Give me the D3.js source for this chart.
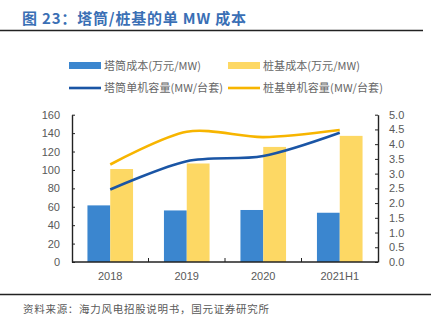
<!DOCTYPE html>
<html>
<head>
<meta charset="utf-8">
<script src="https://cdn.jsdelivr.net/npm/d3@7"></script>
<style>
  body { margin: 0; background: #fff; }
  svg { display: block; font-family: "Liberation Sans", Arial, sans-serif; }
</style>
</head>
<body>
<svg id="chart" width="433" height="331"></svg>
<script>
const years = ["2018", "2019", "2020", "2021H1"];
const towerCost = [61.5, 56, 56.5, 53.5];     // 万元/MW
const pileCost = [101, 107, 125, 137];        // 万元/MW
const towerCap = [2.46, 3.42, 3.6, 4.39];     // MW/台套
const pileCap = [3.31, 4.42, 4.24, 4.48];     // MW/台套
const leftTicks = [0, 20, 40, 60, 80, 100, 120, 140, 160];
const rightTicks = [0, 0.5, 1, 1.5, 2, 2.5, 3, 3.5, 4, 4.5, 5];

const blue = "#3b86cf", gold = "#fdd864";
const blueLine = "#1a55a5", goldLine = "#f7b500";
const grey = "#595959";
const cjk = "'Noto Sans CJK SC', 'Liberation Sans', sans-serif";

const svg = d3.select("#chart");

// title + rules
svg.append("text")
  .attr("x", 22).attr("y", 23.5)
  .attr("fill", "#3a6fb5")
  .attr("font-size", 15).attr("font-weight", "bold")
  .attr("font-family", cjk)
  .attr("textLength", 224).attr("lengthAdjust", "spacing")
  .text("图 23：塔筒/桩基的单 MW 成本");
svg.append("line").attr("x1", 0).attr("x2", 423).attr("y1", 30.5).attr("y2", 30.5)
  .attr("stroke", "#222").attr("stroke-width", 1.6);
svg.append("line").attr("x1", 0).attr("x2", 431).attr("y1", 294.5).attr("y2", 294.5)
  .attr("stroke", "#222").attr("stroke-width", 1.4);
svg.append("text")
  .attr("x", 23).attr("y", 313)
  .attr("fill", grey).attr("font-size", 10.5)
  .attr("font-family", cjk)
  .attr("textLength", 246).attr("lengthAdjust", "spacing")
  .text("资料来源：海力风电招股说明书，国元证券研究所");

const plotL = 72, plotR = 378, plotT = 114.7, plotB = 262;

const x = d3.scaleBand().domain(years).range([plotL, plotR]);
const y = d3.scaleLinear().domain([0, 160]).range([plotB, plotT]);
const y2 = d3.scaleLinear().domain([0, 5]).range([plotB, plotT]);

const barW = 22.8;

// bars
const g = svg.append("g");
g.selectAll(".tower").data(years).join("rect")
  .attr("x", (d) => x(d) + x.bandwidth() / 2 - barW)
  .attr("y", (d, i) => y(towerCost[i]))
  .attr("width", barW)
  .attr("height", (d, i) => plotB - y(towerCost[i]))
  .attr("fill", blue);
g.selectAll(".pile").data(years).join("rect")
  .attr("x", (d) => x(d) + x.bandwidth() / 2)
  .attr("y", (d, i) => y(pileCost[i]))
  .attr("width", barW)
  .attr("height", (d, i) => plotB - y(pileCost[i]))
  .attr("fill", gold);

// smooth capacity lines on the right scale
const line = d3.line()
  .curve(d3.curveCardinal.tension(0.1))
  .x((d, i) => x(years[i]) + x.bandwidth() / 2)
  .y((d) => y2(d));
svg.append("path").attr("d", line(pileCap))
  .attr("fill", "none").attr("stroke", goldLine).attr("stroke-width", 2.6);
svg.append("path").attr("d", line(towerCap))
  .attr("fill", "none").attr("stroke", blueLine).attr("stroke-width", 2.6);

// axes
const fmt1 = d3.format(".1f");
const axL = svg.append("g").attr("transform", `translate(${plotL},0)`)
  .call(d3.axisRight(y).tickValues(leftTicks).tickSize(3).tickSizeOuter(0).tickFormat(() => ""));
const axR = svg.append("g").attr("transform", `translate(${plotR},0)`)
  .call(d3.axisLeft(y2).tickValues(rightTicks).tickSize(3).tickSizeOuter(0).tickFormat(() => ""));
[axL, axR].forEach((a) => {
  a.select(".domain").attr("stroke", "#222").attr("stroke-width", 1.4);
  a.selectAll(".tick line").attr("stroke", "#222").attr("stroke-width", 1);
});

svg.append("g").selectAll("text").data(leftTicks).join("text")
  .attr("x", plotL - 12).attr("y", (d) => y(d) + 4)
  .attr("text-anchor", "end").attr("font-size", 11).attr("fill", grey)
  .text((d) => d);
svg.append("g").selectAll("text").data(rightTicks).join("text")
  .attr("x", plotR + 11).attr("y", (d) => y2(d) + 4)
  .attr("font-size", 11).attr("fill", grey)
  .text((d) => fmt1(d));

// x axis baseline with ticks between categories
svg.append("line").attr("x1", plotL).attr("x2", plotR).attr("y1", plotB).attr("y2", plotB)
  .attr("stroke", "#222").attr("stroke-width", 1.4);
svg.append("g").selectAll("line").data(years.slice(1)).join("line")
  .attr("x1", (d) => x(d)).attr("x2", (d) => x(d))
  .attr("y1", plotB).attr("y2", plotB - 4)
  .attr("stroke", "#222").attr("stroke-width", 1);
svg.append("g").selectAll("text").data(years).join("text")
  .attr("x", (d) => x(d) + x.bandwidth() / 2).attr("y", plotB + 18)
  .attr("text-anchor", "middle").attr("font-size", 11).attr("fill", grey)
  .text((d) => d);

// legend
const legend = [
  { label: "塔筒成本(万元/MW)", color: blue, kind: "bar", x: 69, y: 65.5, w: 97 },
  { label: "桩基成本(万元/MW)", color: gold, kind: "bar", x: 228, y: 65.5, w: 97 },
  { label: "塔筒单机容量(MW/台套)", color: blueLine, kind: "line", x: 69, y: 88, w: 119 },
  { label: "桩基单机容量(MW/台套)", color: goldLine, kind: "line", x: 228, y: 88, w: 120 }
];
const lg = svg.append("g").selectAll("g").data(legend).join("g")
  .attr("transform", (d) => `translate(${d.x},${d.y})`);
lg.append("rect")
  .attr("x", 0).attr("width", 32)
  .attr("y", (d) => d.kind === "bar" ? -3.5 : -1.3)
  .attr("height", (d) => d.kind === "bar" ? 7 : 2.6)
  .attr("fill", (d) => d.color);
lg.append("text")
  .attr("x", 35).attr("y", 4)
  .attr("font-size", 11).attr("fill", "#666")
  .attr("font-family", cjk)
  .attr("textLength", (d) => d.w).attr("lengthAdjust", "spacing")
  .text((d) => d.label);
</script>
</body>
</html>
